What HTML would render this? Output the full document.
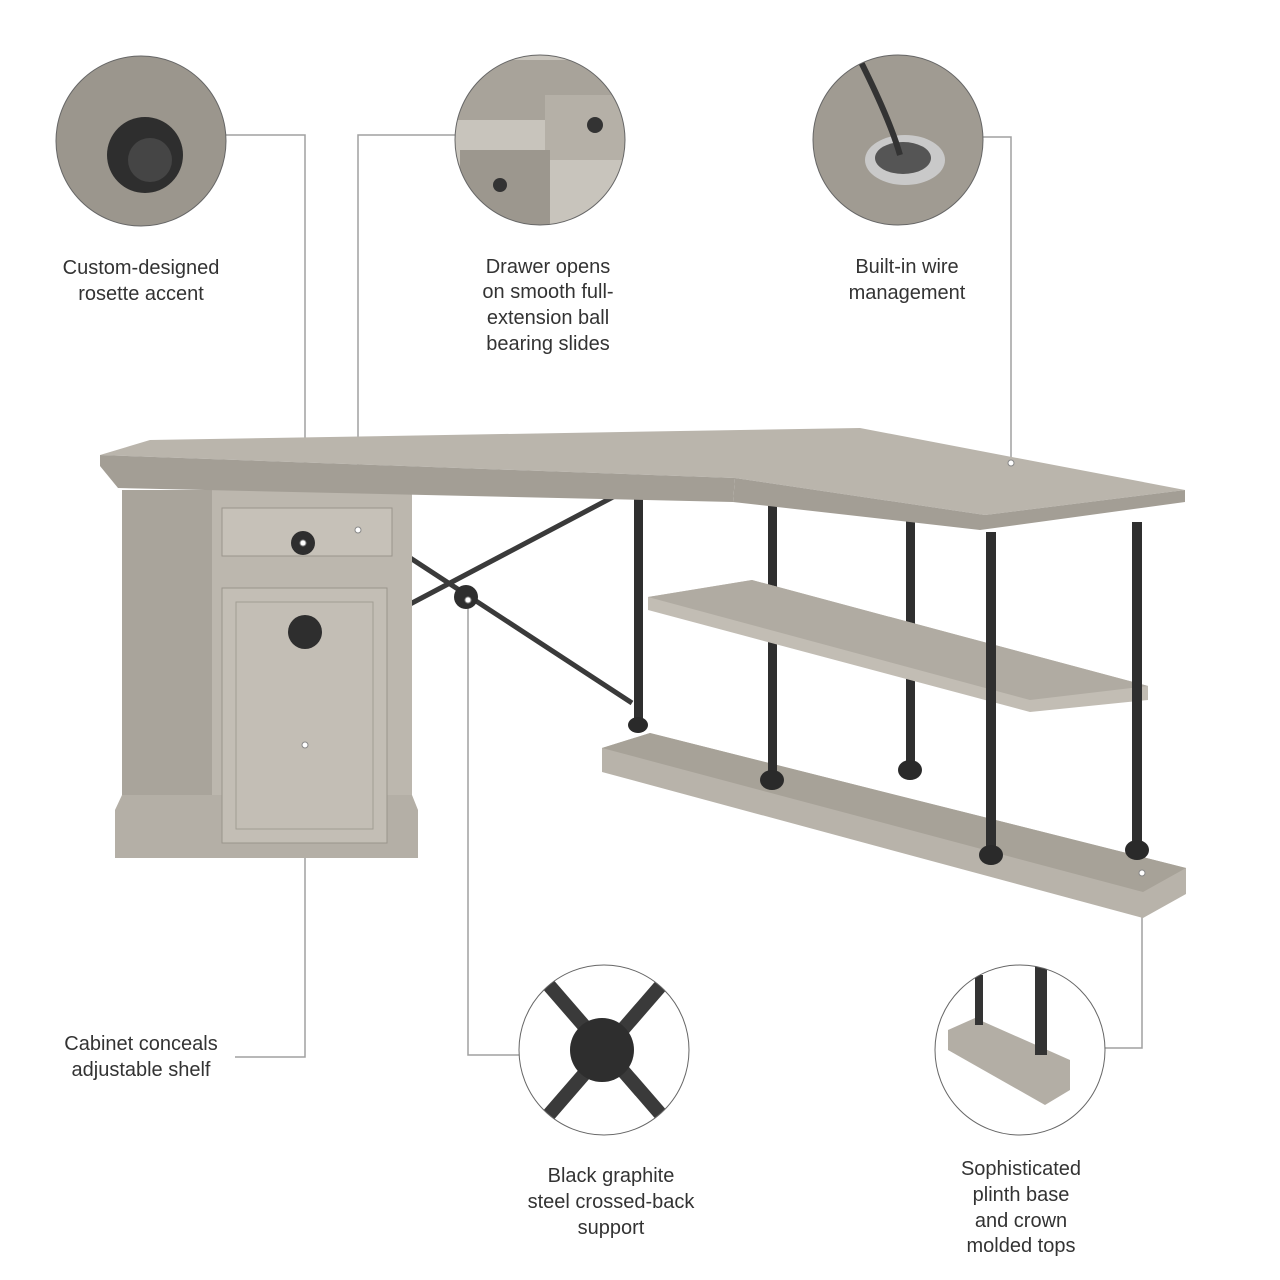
<!DOCTYPE html>
<html><head><meta charset="utf-8"><style>
html,body{margin:0;padding:0;background:#fff;}
svg{display:block}
text{font-family:"Liberation Sans",sans-serif;font-size:20px;fill:#333;text-anchor:middle}
</style></head><body>
<svg width="1280" height="1280" viewBox="0 0 1280 1280" xmlns="http://www.w3.org/2000/svg">
<defs>
<clipPath id="c1"><circle cx="141" cy="141" r="85"/></clipPath>
<clipPath id="c2"><circle cx="540" cy="140" r="85"/></clipPath>
<clipPath id="c3"><circle cx="898" cy="140" r="85"/></clipPath>
<clipPath id="c4"><circle cx="604" cy="1050" r="85"/></clipPath>
<clipPath id="c5"><circle cx="1020" cy="1050" r="85"/></clipPath>
</defs>
<g stroke="#a0a0a0" stroke-width="1.5" fill="none">
<polyline points="226,135 305,135 305,543"/>
<polyline points="305,745 305,1057 235,1057"/>
<polyline points="358,530 358,135 457,135"/>
<polyline points="983,137 1011,137 1011,463"/>
<polyline points="468,600 468,1055 519,1055"/>
<polyline points="1142,873 1142,1048 1105,1048"/>
</g>
<g clip-path="url(#c1)"><rect x="50" y="50" width="190" height="190" fill="#9b968d"/>
<circle cx="145" cy="155" r="38" fill="#2e2e2e"/><circle cx="150" cy="160" r="22" fill="#454545"/></g>
<circle cx="141" cy="141" r="85" fill="none" stroke="#666" stroke-width="1"/>
<g clip-path="url(#c2)"><rect x="450" y="50" width="190" height="190" fill="#c8c4bc"/>
<rect x="455" y="60" width="170" height="60" fill="#a8a39a"/>
<rect x="545" y="95" width="80" height="65" fill="#b5b0a7"/><circle cx="595" cy="125" r="8" fill="#333"/>
<rect x="460" y="150" width="90" height="80" fill="#9c978e"/><circle cx="500" cy="185" r="7" fill="#333"/></g>
<circle cx="540" cy="140" r="85" fill="none" stroke="#666" stroke-width="1"/>
<g clip-path="url(#c3)"><rect x="810" y="50" width="190" height="190" fill="#a09b92"/>
<ellipse cx="905" cy="160" rx="40" ry="25" fill="#c9c9c9"/><ellipse cx="903" cy="158" rx="28" ry="16" fill="#555"/>
<path d="M860 60 Q890 120 900 155" stroke="#333" stroke-width="6" fill="none"/></g>
<circle cx="898" cy="140" r="85" fill="none" stroke="#666" stroke-width="1"/>
<g clip-path="url(#c4)"><rect x="515" y="960" width="180" height="180" fill="#fff"/>
<g stroke="#3a3a3a" stroke-width="14"><line x1="540" y1="975" x2="670" y2="1125"/><line x1="670" y1="975" x2="540" y2="1125"/></g>
<circle cx="602" cy="1050" r="32" fill="#2e2e2e"/></g>
<circle cx="604" cy="1050" r="85" fill="none" stroke="#666" stroke-width="1"/>
<g clip-path="url(#c5)"><rect x="935" y="965" width="180" height="180" fill="#fff"/>
<polygon points="948,1030 975,1018 1070,1060 1070,1090 1045,1105 948,1050" fill="#b3aea5"/>
<rect x="1035" y="965" width="12" height="90" fill="#333"/><rect x="975" y="975" width="8" height="50" fill="#333"/></g>
<circle cx="1020" cy="1050" r="85" fill="none" stroke="#666" stroke-width="1"/>

<polygon points="602,748 650,733 1186,868 1186,894 1143,918 602,772" fill="#b8b3aa"/>
<polygon points="602,748 650,733 1186,868 1143,892" fill="#a7a298"/>
<g fill="#2f2f2f"><rect x="634" y="482" width="9" height="240"/><rect x="768" y="485" width="9" height="295"/>
<rect x="906" y="518" width="9" height="260"/></g>
<polygon points="648,597 752,580 1148,686 1148,700 1030,712 648,610" fill="#c2bdb4"/>
<polygon points="648,597 752,580 1148,686 1030,700" fill="#b0aba2"/>
<g fill="#2f2f2f"><rect x="986" y="532" width="10" height="325"/><rect x="1132" y="522" width="10" height="335"/></g>
<g fill="#2a2a2a"><ellipse cx="638" cy="725" rx="10" ry="8"/><ellipse cx="772" cy="780" rx="12" ry="10"/><ellipse cx="910" cy="770" rx="12" ry="10"/><ellipse cx="991" cy="855" rx="12" ry="10"/><ellipse cx="1137" cy="850" rx="12" ry="10"/></g>
<g stroke="#3a3a3a" stroke-width="5"><line x1="395" y1="548" x2="632" y2="703"/><line x1="395" y1="612" x2="632" y2="487"/></g>
<circle cx="466" cy="597" r="12" fill="#2e2e2e"/>
<rect x="122" y="490" width="290" height="320" fill="#bcb7ae"/>
<rect x="122" y="490" width="90" height="320" fill="#a9a49b"/>
<polygon points="115,810 122,795 412,795 418,810 418,858 115,858" fill="#b4afa6"/>
<rect x="222" y="508" width="170" height="48" fill="#c6c1b8" stroke="#9a958c"/>
<rect x="222" y="588" width="165" height="255" fill="#c3beb5" stroke="#9a958c"/>
<rect x="236" y="602" width="137" height="227" fill="none" stroke="#a29d94"/>
<circle cx="303" cy="543" r="12" fill="#2e2e2e"/><circle cx="305" cy="632" r="17" fill="#2e2e2e"/>
<!-- top -->
<polygon points="100,455 150,440 860,428 1185,490 985,515 735,478" fill="#bab5ac"/>
<polygon points="100,455 735,478 733,502 118,488 100,466" fill="#a39e95"/>
<polygon points="735,478 985,515 1185,490 1185,502 980,530 733,502" fill="#a39e95"/>
<g fill="#fff" stroke="#888"><circle cx="303" cy="543" r="3"/><circle cx="358" cy="530" r="3"/><circle cx="305" cy="745" r="3"/><circle cx="468" cy="600" r="3"/><circle cx="1011" cy="463" r="3"/><circle cx="1142" cy="873" r="3"/></g>

<text x="141" y="274">Custom-designed</text><text x="141" y="300">rosette accent</text>
<text x="548" y="273">Drawer opens</text><text x="548" y="298">on smooth full-</text><text x="548" y="324">extension ball</text><text x="548" y="350">bearing slides</text>
<text x="907" y="273">Built-in wire</text><text x="907" y="299">management</text>
<text x="141" y="1050">Cabinet conceals</text><text x="141" y="1076">adjustable shelf</text>
<text x="611" y="1182">Black graphite</text><text x="611" y="1208">steel crossed-back</text><text x="611" y="1234">support</text>
<text x="1021" y="1175">Sophisticated</text><text x="1021" y="1201">plinth base</text><text x="1021" y="1227">and crown</text><text x="1021" y="1252">molded tops</text>
</svg>
</body></html>
